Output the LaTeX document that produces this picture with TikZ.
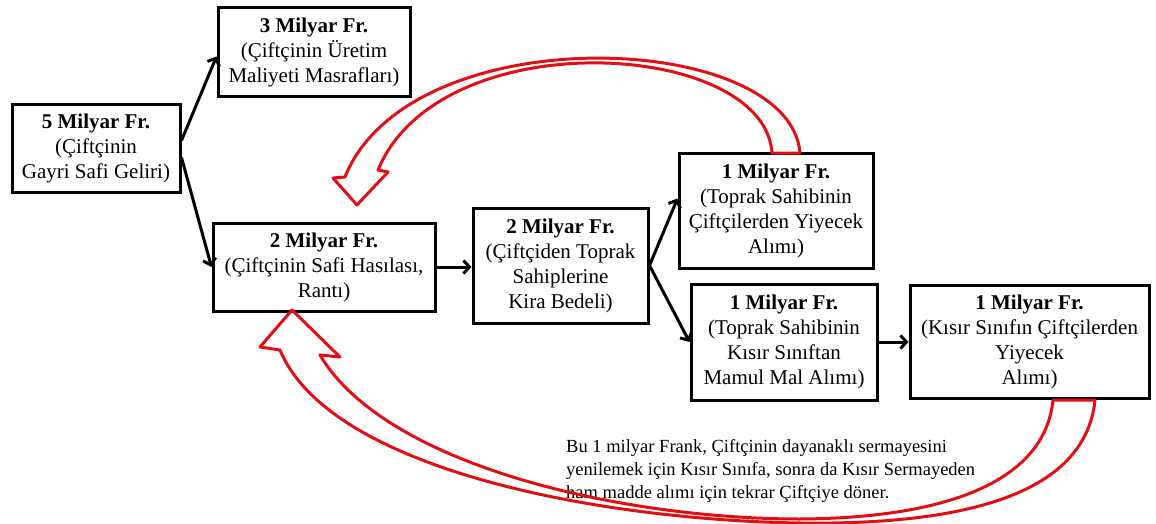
\documentclass[tikz,border=0pt]{standalone}
\usepackage{fontspec}
\setmainfont{Liberation Serif}
\usetikzlibrary{arrows.meta}
\definecolor{arrred}{RGB}{225,15,20}
\begin{document}
\begin{tikzpicture}[x=1pt,y=-1pt,
  box/.style={draw, line width=3pt, inner sep=0pt, align=center, font=\fontsize{21}{25}\selectfont},
  flow/.style={line width=3pt, -{Straight Barb[length=6pt,width=13pt]}},
  ret/.style={draw=arrred, line width=3pt, line join=round}]
\useasboundingbox (0,0) rectangle (1156,524);

\node[box, minimum width=168pt, minimum height=87pt] (A) at (96,148.5)
  {\textbf{5 Milyar Fr.}\\(Çiftçinin\\Gayri Safi Geliri)};
\node[box, minimum width=192pt, minimum height=89pt] (B) at (314,52.5)
  {\textbf{3 Milyar Fr.}\\(Çiftçinin Üretim\\Maliyeti Masrafları)};
\node[box, minimum width=222pt, minimum height=88pt] (C) at (324,267)
  {\textbf{2 Milyar Fr.}\\(Çiftçinin Safi Hasılası,\\Rantı)};
\node[box, minimum width=175pt, minimum height=115pt] (D) at (560.5,265.5)
  {\textbf{2 Milyar Fr.}\\(Çiftçiden Toprak\\Sahiplerine\\Kira Bedeli)};
\node[box, minimum width=194pt, minimum height=115pt] (E) at (776,210.5)
  {\textbf{1 Milyar Fr.}\\(Toprak Sahibinin\\Çiftçilerden Yiyecek\\Alımı)};
\node[box, minimum width=186pt, minimum height=116pt] (F) at (784,342)
  {\textbf{1 Milyar Fr.}\\(Toprak Sahibinin\\Kısır Sınıftan\\Mamul Mal Alımı)};
\node[box, minimum width=239pt, minimum height=113pt] (G) at (1029.5,341.5)
  {\textbf{1 Milyar Fr.}\\(Kısır Sınıfın Çiftçilerden\\Yiyecek\\Alımı)};

\node[anchor=north west, inner sep=0pt, align=left, font=\fontsize{18.5}{23}\selectfont] (note) at (566,439)
  {Bu 1 milyar Frank, Çiftçinin dayanaklı sermayesini\\yenilemek için Kısır Sınıfa, sonra da Kısır Sermayeden\\ham madde alımı için tekrar Çiftçiye döner.};

\draw[flow] ([yshift=8pt]A.east) -- ([yshift=-4pt]B.west);
\draw[flow] ([yshift=-9pt]A.east) -- (C.west);
\draw[flow] (C.east) -- (C.east -| D.west);
\draw[flow] (D.east) -- ([yshift=12pt]E.west);
\draw[flow] (D.east) -- (F.west);
\draw[flow] (F.east) -- (F.east -| G.west);

% red return arrows
\draw[ret] (772,153) .. controls (765,40) and (440,20) .. (378,170)
  -- (388,172) -- (357,205) -- (333,178) -- (345,177)
  .. controls (410,15) and (790,30) .. (800,153) -- cycle;
\draw[ret] (1095,400) .. controls (1085,500) and (950,525) .. (800,523)
  .. controls (600,520) and (330,470) .. (280,350)
  -- (260,347) -- (292,310) -- (340,357) -- (320,355)
  .. controls (385,465) and (620,519) .. (800,519)
  .. controls (950,518) and (1045,480) .. (1053,400) -- cycle;
\end{tikzpicture}
\end{document}
